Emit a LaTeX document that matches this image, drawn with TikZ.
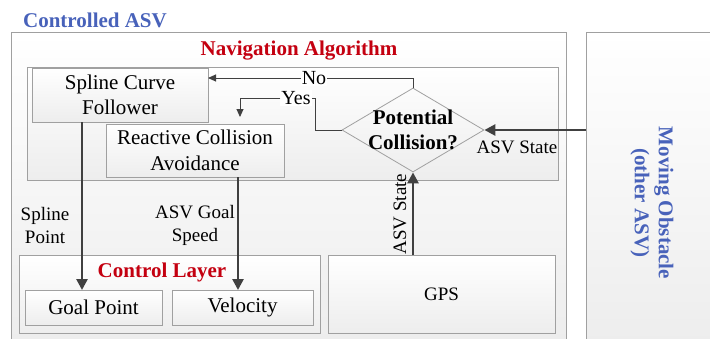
\documentclass[tikz,border=0pt]{standalone}
\usepackage{fontspec}
\setmainfont{Liberation Serif}
\usetikzlibrary{shapes.geometric,arrows.meta,shadows}
\definecolor{asvblue}{RGB}{72,98,186}
\definecolor{navred}{RGB}{196,0,16}
\definecolor{edgegray}{RGB}{160,160,160}
\definecolor{wire}{RGB}{64,64,64}
\begin{document}
\begin{tikzpicture}[x=1pt,y=-1pt,
  panel/.style={rectangle, draw=edgegray, line width=0.8pt, top color=white,
    bottom color=black!7, inner sep=0pt, outer sep=0pt},
  blockbox/.style={panel, drop shadow={shadow xshift=0.9pt, shadow yshift=-0.9pt,
    opacity=0.35, fill=black!60}},
  titlefont/.style={font=\fontsize{21}{24}\selectfont\bfseries},
  boxtext/.style={font=\fontsize{21}{25.5}\selectfont, align=center},
  labeltext/.style={font=\fontsize{19}{23}\selectfont, align=center, inner sep=1pt},
  thickarrow/.style={draw=wire, line width=2.6pt, -{Triangle[length=11pt,width=11pt]}},
  thinline/.style={draw=wire, line width=0.9pt},
  thinarrow/.style={thinline, -{Triangle[length=8pt,width=7pt]}}
]
\useasboundingbox (0,0) rectangle (710,338);

% outer containers
\node[blockbox, anchor=north west, minimum width=555pt, minimum height=308pt] (asv) at (11,32) {};
\node[titlefont, text=asvblue, anchor=base] (asvtitle) at (95,27) {Controlled ASV};
\node[blockbox, anchor=north west, minimum width=130pt, minimum height=310pt] (mo) at (586,32) {};
\node[titlefont, text=asvblue, rotate=-90, align=center] (motitle) at (652,203) {Moving Obstacle\\(other ASV)};

% navigation algorithm group
\node[blockbox, anchor=north west, minimum width=531pt, minimum height=113pt] (nav) at (27,67) {};
\node[titlefont, text=navred, anchor=base] (navtitle) at (299,55) {Navigation Algorithm};
\node[blockbox, boxtext, minimum width=176pt, minimum height=54pt] (sp) at (120,95) {Spline Curve\\Follower};
\node[blockbox, boxtext, minimum width=178pt, minimum height=53pt] (ra) at (195,150.5) {Reactive Collision\\Avoidance};
\node[diamond, draw=edgegray, line width=0.8pt, minimum width=142pt, minimum height=84pt, inner sep=0pt] (dm) at (413,130) {};
\node[font=\fontsize{21}{25}\selectfont\bfseries, align=center] (dmtext) at (dm) {Potential\\Collision?};

% control layer group
\node[blockbox, anchor=north west, minimum width=301pt, minimum height=78pt] (cl) at (19,255) {};
\node[titlefont, text=navred, anchor=base] (cltitle) at (162,277) {Control Layer};
\node[blockbox, boxtext, minimum width=137pt, minimum height=35pt] (gp) at (93.5,307.5) {Goal Point};
\node[blockbox, boxtext, minimum width=141pt, minimum height=35pt] (vel) at (242.5,307.5) {Velocity};

% GPS
\node[blockbox, minimum width=227pt, minimum height=78pt, font=\fontsize{19}{23}\selectfont] (gps) at (441.5,294) {GPS};

% decision branches
\node[labeltext, fill=white, font=\fontsize{20}{23}\selectfont] (no) at (314,78) {No};
\node[labeltext, fill=white, font=\fontsize{20}{23}\selectfont] (yes) at (296,98) {Yes};
\coordinate (yesend) at (240,117);
\draw[thinline] (dm.north) |- (no.east);
\draw[thinarrow] (no.west) -- (sp.east |- no.west);
\draw[thinline] (dm.west) -| ([xshift=4pt]yes.east) -- (yes.east);
\draw[thinarrow] (yes.west) -| (yesend);

% state inputs
\draw[thickarrow] (mo.west |- dm.east) -- (dm.east);
\node[labeltext] (aslabel) at (517,147) {ASV State};
\draw[thickarrow] (gps.north -| dm.south) -- (dm.south);
\node[labeltext, rotate=90] (gslabel) at (400,214) {ASV State};

% commands to the control layer
\coordinate (spx) at (82,0);
\coordinate (rax) at (238,0);
\draw[thickarrow] (sp.south -| spx) -- (gp.north -| spx);
\draw[thickarrow] (ra.south -| rax) -- (vel.north -| rax);
\node[labeltext] (splabel) at (45,225) {Spline\\Point};
\node[labeltext] (gslab2) at (195,225) {ASV Goal\\Speed};
\end{tikzpicture}
\end{document}
